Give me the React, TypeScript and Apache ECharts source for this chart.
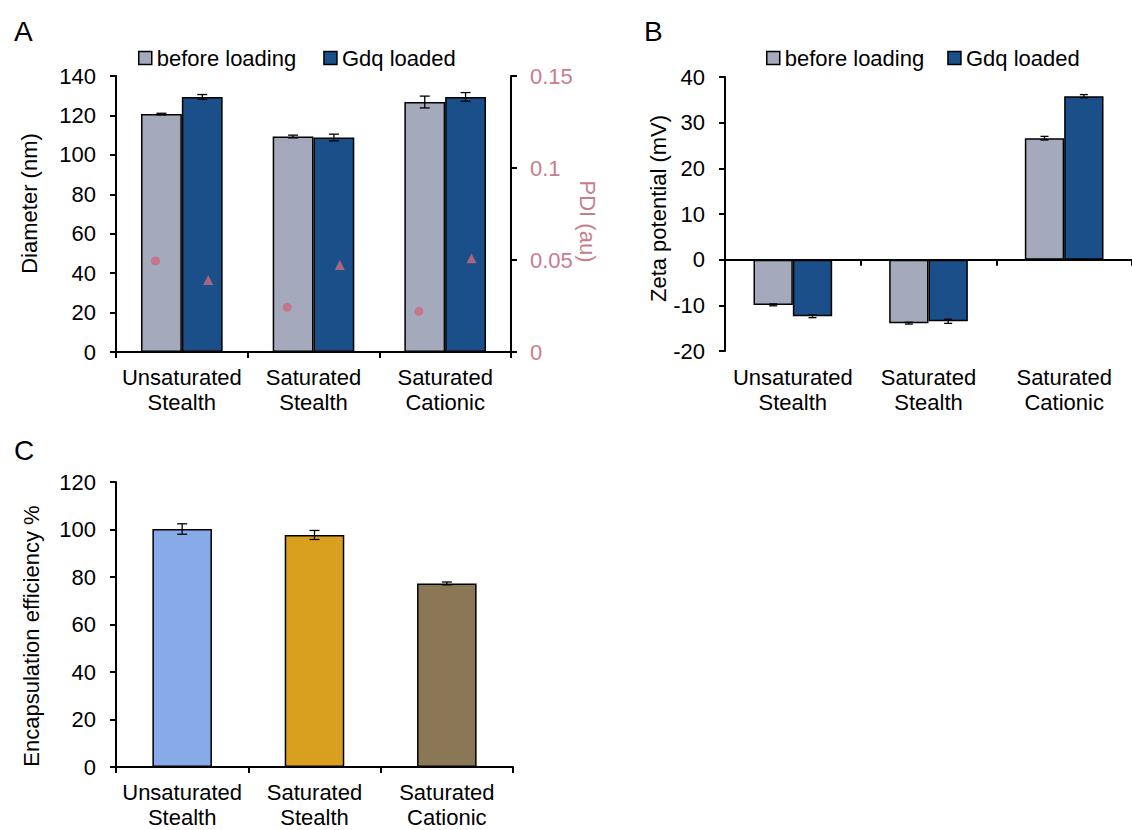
import React, { useEffect, useRef } from "react";
import * as echarts from "echarts";

// ---------- data ----------
const categories = ["Unsaturated\nStealth", "Saturated\nStealth", "Saturated\nCationic"];
const seriesNames = ["before loading", "Gdq loaded"];

// Panel A: diameter (nm) and PDI (au)
const diameterBefore = [120.7, 109.3, 126.8];
const diameterBeforeErr = [0.4, 0.7, 3.0];
const diameterLoaded = [129.4, 108.8, 129.4];
const diameterLoadedErr = [1.2, 1.7, 2.2];
const pdiBefore = [0.0495, 0.0243, 0.0221];
const pdiLoaded = [0.0391, 0.0473, 0.0509];

// Panel B: zeta potential (mV)
const zetaBefore = [-9.9, -13.9, 26.6];
const zetaBeforeErr = [0.2, 0.2, 0.4];
const zetaLoaded = [-12.4, -13.5, 35.8];
const zetaLoadedErr = [0.3, 0.45, 0.35];

// Panel C: encapsulation efficiency %
const encapsulation = [100.2, 97.7, 77.3];
const encapsulationErr = [2.2, 1.9, 0.6];

// ---------- styles ----------
const FONT = "Liberation Sans, Arial, sans-serif";
const GREY = "#a5a9bc";
const BLUE = "#1a4f8a";
const PINK = "#c96b7c";
const PINK_TEXT = "#c77d8c";
const C_COLORS = ["#87abe8", "#d9a020", "#8a7755"];

const GAP_AB_A = 0.38;
const GAP_B = 0.42;
const GAP_C = 0.55;

const makeErrorRender = (offsetFactor: number, gapFrac: number, nBars: number, cap: number) =>
  (params: any, api: any) => {
    const i = api.value(0);
    const v = api.value(1);
    const e = api.value(2);
    const catW = api.size([1, 0])[0];
    const barW = (catW * (1 - gapFrac)) / nBars;
    const base = api.coord([i, v]);
    const x = base[0] + offsetFactor * barW;
    const yTop = api.coord([i, v + e])[1];
    const yBot = api.coord([i, v - e])[1];
    const style = { stroke: "#000", lineWidth: 1.3 };
    return {
      type: "group",
      children: [
        { type: "line", shape: { x1: x, y1: yTop, x2: x, y2: yBot }, style },
        { type: "line", shape: { x1: x - cap / 2, y1: yTop, x2: x + cap / 2, y2: yTop }, style },
        { type: "line", shape: { x1: x - cap / 2, y1: yBot, x2: x + cap / 2, y2: yBot }, style },
      ],
    };
  };

const axisLineStyle = { color: "#000", width: 2 };
const labelStyle = { fontSize: 22, color: "#000", fontFamily: FONT };

const catAxis = (gridIndex: number, extra: any = {}) => ({
  type: "category",
  gridIndex,
  data: categories,
  position: "bottom",
  axisLine: { show: true, onZero: false, lineStyle: axisLineStyle },
  axisTick: { show: true, length: 6, lineStyle: axisLineStyle },
  axisLabel: { ...labelStyle, interval: 0, margin: 13, lineHeight: 25 },
  splitLine: { show: false },
  ...extra,
});

const valAxis = (gridIndex: number, min: number, max: number, interval: number, name: string, nameGap: number, padding: number[], extra: any = {}) => ({
  type: "value",
  gridIndex,
  min,
  max,
  interval,
  axisLine: { show: true, onZero: false, lineStyle: axisLineStyle },
  axisTick: { show: true, length: 6, lineStyle: axisLineStyle },
  axisLabel: { ...labelStyle, margin: 20 },
  splitLine: { show: false },
  name,
  nameLocation: "middle",
  nameGap,
  nameTextStyle: { ...labelStyle, padding },
  ...extra,
});

const legendCfg = (left: number, itemGap: number) => ({
  data: seriesNames,
  left,
  top: 42,
  icon: "rect",
  itemWidth: 13,
  itemHeight: 13,
  itemGap,
  itemStyle: { borderColor: "#000", borderWidth: 1.5 },
  textStyle: { ...labelStyle },
  selectedMode: false,
});

const letterStyle = { fontSize: 28, fontWeight: "normal", color: "#000", fontFamily: FONT };

export default function App() {
  const ref = useRef<HTMLDivElement>(null);

  useEffect(() => {
    if (!ref.current) return;
    const chart = echarts.init(ref.current, undefined, { renderer: "svg" });

    const barBorder = { borderColor: "#000", borderWidth: 1.5 };

    const option: any = {
      animation: false,
      backgroundColor: "#fff",
      textStyle: { fontFamily: FONT },
      title: [
        { text: "A", left: 9, top: 12, textStyle: letterStyle },
        { text: "B", left: 639, top: 12, textStyle: letterStyle },
        { text: "C", left: 9, top: 431, textStyle: letterStyle },
      ],
      legend: [legendCfg(133, 27), legendCfg(761, 23)],
      grid: [
        { left: 116, top: 76, width: 395, height: 276 },
        { left: 725, top: 77, width: 416, height: 274 },
        { left: 116, top: 482, width: 397, height: 285 },
      ],
      xAxis: [
        catAxis(0),
        { type: "value", gridIndex: 0, min: 0, max: 3, show: false },
        catAxis(1, { axisLine: { show: false, onZero: false }, axisTick: { show: false }, axisLabel: { ...labelStyle, interval: 0, margin: 14, lineHeight: 25 } }),
        catAxis(1, { axisLine: { show: true, onZero: true, lineStyle: axisLineStyle }, axisLabel: { show: false } }),
        catAxis(2),
      ],
      yAxis: [
        valAxis(0, 0, 140, 20, "Diameter (nm)", 76, [0, 0, 0, 21]),
        valAxis(0, 0, 0.15, 0.05, "PDI (au)", 42, [0, 0, 0, 15], {
          position: "right",
          nameRotate: -90,
          axisLabel: { ...labelStyle, color: PINK_TEXT, margin: 19 },
          nameTextStyle: { ...labelStyle, color: PINK_TEXT, padding: [0, 0, 0, 15] },
        }),
        valAxis(1, -20, 40, 10, "Zeta potential (mV)", 54, [0, 0, 0, 11]),
        valAxis(2, 0, 120, 20, "Encapsulation efficiency %", 74, [0, 23, 0, 0]),
      ],
      series: [
        // Panel A bars
        { type: "bar", name: seriesNames[0], xAxisIndex: 0, yAxisIndex: 0, data: diameterBefore, barGap: "0%", barCategoryGap: GAP_AB_A * 100 + "%", itemStyle: { color: GREY, ...barBorder } },
        { type: "bar", name: seriesNames[1], xAxisIndex: 0, yAxisIndex: 0, data: diameterLoaded, barGap: "0%", barCategoryGap: GAP_AB_A * 100 + "%", itemStyle: { color: BLUE, ...barBorder } },
        {
          type: "custom", name: "errA0", xAxisIndex: 0, yAxisIndex: 0, z: 5,
          renderItem: makeErrorRender(-0.5, GAP_AB_A, 2, 10),
          encode: { x: 0, y: 1 },
          data: diameterBefore.map((v, i) => [i, v, diameterBeforeErr[i]]),
        },
        {
          type: "custom", name: "errA1", xAxisIndex: 0, yAxisIndex: 0, z: 5,
          renderItem: makeErrorRender(0.5, GAP_AB_A, 2, 10),
          encode: { x: 0, y: 1 },
          data: diameterLoaded.map((v, i) => [i, v, diameterLoadedErr[i]]),
        },
        // Panel A PDI markers
        {
          type: "scatter", name: "PDI before loading", xAxisIndex: 1, yAxisIndex: 1, z: 6,
          symbol: "circle", symbolSize: 9, itemStyle: { color: PINK },
          data: pdiBefore.map((v, i) => [i + 0.3, v]),
        },
        {
          type: "scatter", name: "PDI Gdq loaded", xAxisIndex: 1, yAxisIndex: 1, z: 6,
          symbol: "triangle", symbolSize: 10, itemStyle: { color: PINK },
          data: pdiLoaded.map((v, i) => [i + 0.7, v]),
        },
        // Panel B bars
        { type: "bar", name: seriesNames[0], xAxisIndex: 2, yAxisIndex: 2, data: zetaBefore, barGap: "0%", barCategoryGap: GAP_B * 100 + "%", itemStyle: { color: GREY, ...barBorder } },
        { type: "bar", name: seriesNames[1], xAxisIndex: 2, yAxisIndex: 2, data: zetaLoaded, barGap: "0%", barCategoryGap: GAP_B * 100 + "%", itemStyle: { color: BLUE, ...barBorder } },
        {
          type: "custom", name: "errB0", xAxisIndex: 2, yAxisIndex: 2, z: 5,
          renderItem: makeErrorRender(-0.5, GAP_B, 2, 8),
          encode: { x: 0, y: 1 },
          data: zetaBefore.map((v, i) => [i, v, zetaBeforeErr[i]]),
        },
        {
          type: "custom", name: "errB1", xAxisIndex: 2, yAxisIndex: 2, z: 5,
          renderItem: makeErrorRender(0.5, GAP_B, 2, 8),
          encode: { x: 0, y: 1 },
          data: zetaLoaded.map((v, i) => [i, v, zetaLoadedErr[i]]),
        },
        // Panel C bars
        {
          type: "bar", name: "Encapsulation efficiency", xAxisIndex: 4, yAxisIndex: 3,
          barCategoryGap: GAP_C * 100 + "%",
          data: encapsulation.map((v, i) => ({ value: v, itemStyle: { color: C_COLORS[i], ...barBorder } })),
        },
        {
          type: "custom", name: "errC", xAxisIndex: 4, yAxisIndex: 3, z: 5,
          renderItem: makeErrorRender(0, GAP_C, 1, 10),
          encode: { x: 0, y: 1 },
          data: encapsulation.map((v, i) => [i, v, encapsulationErr[i]]),
        },
      ],
    };

    chart.setOption(option);
    return () => chart.dispose();
  }, []);

  return (
    <div
      ref={ref}
      style={{ position: "fixed", left: 0, top: 0, width: 1132, height: 830, background: "#fff" }}
    />
  );
}
